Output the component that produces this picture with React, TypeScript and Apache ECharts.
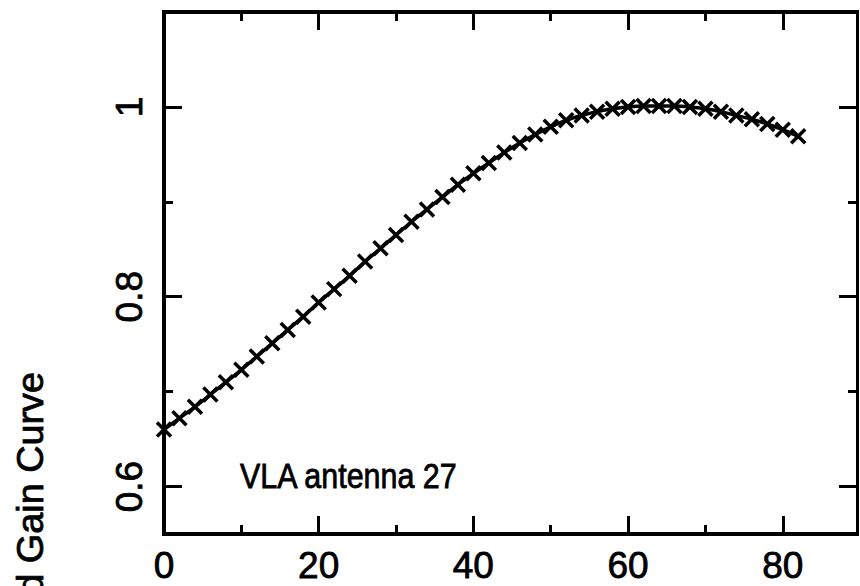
import React, { useEffect, useRef } from 'react';
import * as echarts from 'echarts';

// Elevation (degrees) and normalised gain
const elevations = [
  0, 2, 4, 6, 8, 10, 12, 14, 16, 18, 20, 22, 24, 26, 28, 30, 32, 34, 36, 38, 40,
  42, 44, 46, 48, 50, 52, 54, 56, 58, 60, 62, 64, 66, 68, 70, 72, 74, 76, 78, 80, 82,
];
const gains = [
  0.660, 0.672, 0.684, 0.697, 0.710, 0.723, 0.737, 0.751, 0.765, 0.779, 0.794,
  0.808, 0.822, 0.837, 0.851, 0.865, 0.879, 0.892, 0.905, 0.918, 0.930,
  0.941, 0.952, 0.962, 0.971, 0.979, 0.986, 0.991, 0.995, 0.998, 1.000,
  1.001, 1.001, 1.001, 1.000, 0.998, 0.995, 0.991, 0.987, 0.982, 0.976, 0.969,
];

const xLabelValues = [0, 20, 40, 60, 80];
const xLabelTexts = ['0', '20', '40', '60', '80'];
const yLabelValues = [0.6, 0.8, 1.0];
const yLabelTexts = ['0.6', '0.8', '1'];

const xRange = [0, 89.6];
const yRange = [0.55, 1.1];
const xSteps = { major: 20, minor: 10 };
const ySteps = { major: 0.2, minor: 0.1 };

const yTitle = 'Normalized Gain Curve';
const annotation = 'VLA antenna 27';

const BLACK = '#000';
const FONT = '"Liberation Sans", Arial, sans-serif';

function findLabel(values: number[], texts: string[], v: number): string {
  for (let i = 0; i < values.length; i++) {
    if (Math.abs(values[i] - v) < 1e-6) return texts[i];
  }
  return '';
}

const labelBase = {
  show: true,
  color: BLACK,
  fontFamily: FONT,
  fontSize: 37,
  lineHeight: 30,
  textBorderColor: BLACK,
  textBorderWidth: 0.8,
};

function makeX(position: 'top' | 'bottom', step: number, tickLen: number, line: boolean, labels: boolean) {
  return {
    type: 'value',
    position,
    min: xRange[0],
    max: xRange[1],
    minInterval: step,
    maxInterval: step,
    splitLine: { show: false },
    axisLine: { show: line, onZero: false, lineStyle: { color: BLACK, width: 4, cap: 'square' } },
    axisTick: { show: true, inside: true, length: tickLen, lineStyle: { color: BLACK, width: 3 } },
    axisLabel: labels
      ? {
          ...labelBase,
          margin: 16,
          formatter: (v: number) => findLabel(xLabelValues, xLabelTexts, v),
        }
      : { show: false },
  };
}

function makeY(position: 'left' | 'right', step: number, tickLen: number, line: boolean, labels: boolean, lw = 4) {
  return {
    type: 'value',
    position,
    min: yRange[0],
    max: yRange[1],
    minInterval: step,
    maxInterval: step,
    splitLine: { show: false },
    axisLine: { show: line, onZero: false, lineStyle: { color: BLACK, width: lw, cap: 'square' } },
    axisTick: { show: true, inside: true, length: tickLen, lineStyle: { color: BLACK, width: 3 } },
    axisLabel: labels
      ? {
          ...labelBase,
          rotate: 90,
          margin: 20,
          formatter: (v: number) => findLabel(yLabelValues, yLabelTexts, v),
        }
      : { show: false },
  };
}

export default function App() {
  const ref = useRef<HTMLDivElement>(null);

  useEffect(() => {
    if (!ref.current) return;
    const chart = echarts.init(ref.current, undefined, { renderer: 'svg' });
    chart.setOption({
      animation: false,
      backgroundColor: '#fff',
      grid: { left: 164, top: 12, width: 694, height: 522, containLabel: false },
      xAxis: [
        makeX('bottom', xSteps.major, 18, true, true),
        makeX('bottom', xSteps.minor, 9, false, false),
        makeX('top', xSteps.major, 18, true, false),
        makeX('top', xSteps.minor, 9, false, false),
      ],
      yAxis: [
        makeY('left', ySteps.major, 18, true, true),
        makeY('left', ySteps.minor, 9, false, false),
        makeY('right', ySteps.major, 18, true, false, 3),
        makeY('right', ySteps.minor, 9, false, false),
      ],
      graphic: [
        {
          type: 'text',
          x: 31,
          y: 372,
          rotation: Math.PI / 2,
          scaleX: 1.05,
          style: {
            text: yTitle,
            fill: BLACK,
            font: `36px ${FONT}`,
            align: 'right',
            verticalAlign: 'middle',
            stroke: BLACK,
            lineWidth: 0.8,
          },
        },
        {
          type: 'text',
          x: 240,
          y: 476,
          scaleX: 0.87,
          style: {
            text: annotation,
            fill: BLACK,
            font: `35px ${FONT}`,
            align: 'left',
            verticalAlign: 'middle',
            stroke: BLACK,
            lineWidth: 0.8,
          },
        },
      ],
      series: [
        {
          type: 'line',
          xAxisIndex: 0,
          yAxisIndex: 0,
          data: elevations.map((e, i) => [e, gains[i]]),
          smooth: 0.2,
          clip: false,
          showAllSymbol: true,
          symbol: 'path://M0,0L10,10M10,0L0,10',
          symbolSize: 14,
          symbolKeepAspect: true,
          lineStyle: { color: BLACK, width: 3.5 },
          itemStyle: { color: BLACK, borderColor: BLACK, borderWidth: 3.5 },
          emphasis: { disabled: true },
        },
      ],
    });
    return () => chart.dispose();
  }, []);

  return (
    <div
      ref={ref}
      style={{ position: 'absolute', left: 0, top: 0, width: 860, height: 586, background: '#fff' }}
    />
  );
}
